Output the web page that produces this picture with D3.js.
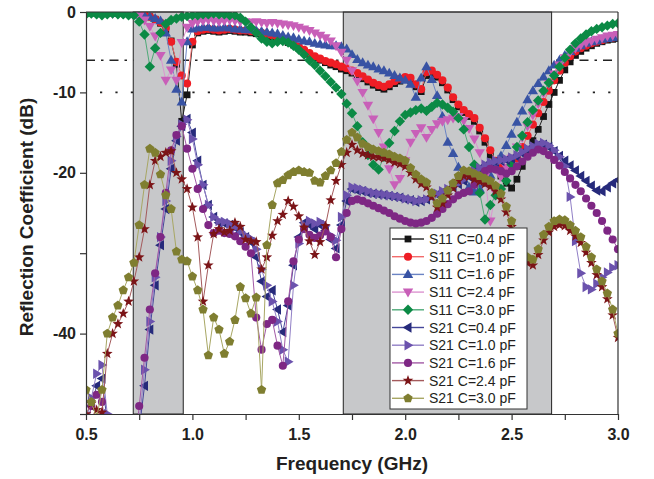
<!DOCTYPE html>
<html><head><meta charset="utf-8">
<script src="https://cdn.jsdelivr.net/npm/d3@7"></script>
<style>
body{margin:0;background:#fff}
svg{display:block}
text{font-family:"Liberation Sans",Arial,Helvetica,sans-serif;fill:#231f20}
</style>
</head><body>
<svg id="chart" width="654" height="479"></svg>
<script>
// ---------------- DATA ----------------
const freq = [
0.5,0.525,0.55,0.575,0.6,0.625,0.65,0.675,0.7,0.725,
0.75,0.775,0.8,0.825,0.85,0.875,0.9,0.925,0.95,0.975,
1.0,1.025,1.05,1.075,1.1,1.125,1.15,1.175,1.2,1.225,
1.25,1.275,1.3,1.325,1.35,1.375,1.4,1.425,1.45,1.475,
1.5,1.525,1.55,1.575,1.6,1.625,1.65,1.675,1.7,1.725,
1.75,1.775,1.8,1.825,1.85,1.875,1.9,1.925,1.95,1.975,
2.0,2.025,2.05,2.075,2.1,2.125,2.15,2.175,2.2,2.225,
2.25,2.275,2.3,2.325,2.35,2.375,2.4,2.425,2.45,2.475,
2.5,2.525,2.55,2.575,2.6,2.625,2.65,2.675,2.7,2.725,
2.75,2.775,2.8,2.825,2.85,2.875,2.9,2.925,2.95,2.975,
3.0];

const s11_c04 = [
-0.1,-0.1,-0.1,-0.1,-0.1,-0.1,-0.2,-0.2,-0.2,-0.2,
-0.3,-0.4,-0.6,-0.9,-1.4,-2.2,-3.6,-6.5,-13.6,-10.3,
-4.1,-2.6,-2.4,-2.3,-2.4,-2.5,-2.4,-2.3,-2.4,-2.5,
-2.5,-2.6,-2.7,-2.8,-3.0,-3.1,-3.3,-3.5,-3.8,-4.1,
-4.5,-4.9,-5.3,-5.7,-6.0,-6.3,-6.6,-6.8,-7.1,-7.3,
-7.6,-7.9,-8.3,-8.7,-9.1,-9.4,-9.6,-9.3,-8.9,-8.6,
-8.4,-8.5,-9.3,-9.9,-7.9,-7.7,-8.1,-8.8,-9.7,-10.9,
-11.8,-12.5,-13.0,-13.6,-14.8,-16.2,-17.8,-19.3,-20.4,-21.3,
-21.9,-20.8,-19.2,-17.5,-16.0,-14.6,-13.0,-11.5,-10.0,-8.5,
-7.2,-6.2,-5.4,-4.9,-4.5,-4.2,-3.9,-3.7,-3.5,-3.4,
-3.3];

const s11_c10 = [
-0.1,-0.1,-0.1,-0.1,-0.1,-0.1,-0.1,-0.2,-0.2,-0.2,
-0.3,-0.4,-0.6,-0.9,-1.3,-2.0,-3.7,-6.2,-7.9,-8.9,
-3.7,-2.4,-2.2,-2.1,-2.2,-2.3,-2.2,-2.1,-2.2,-2.3,
-2.3,-2.4,-2.5,-2.6,-2.8,-2.9,-3.1,-3.3,-3.6,-3.9,
-4.3,-4.7,-5.1,-5.5,-5.8,-6.1,-6.3,-6.5,-6.8,-7.0,
-7.3,-7.6,-8.0,-8.4,-8.8,-9.1,-9.3,-9.0,-8.6,-8.3,
-8.1,-8.2,-9.0,-9.6,-7.5,-7.3,-7.8,-8.5,-9.4,-10.6,
-11.5,-12.2,-12.7,-13.2,-14.4,-15.7,-17.2,-18.5,-19.4,-19.9,
-19.5,-18.2,-16.8,-15.4,-14.0,-12.6,-11.2,-9.8,-8.5,-7.3,
-6.3,-5.5,-4.9,-4.5,-4.2,-3.9,-3.7,-3.5,-3.3,-3.2,
-3.1];

const s11_c16 = [
-0.1,-0.1,-0.1,-0.1,-0.1,-0.1,-0.2,-0.2,-0.2,-0.3,
-0.4,-0.5,-0.6,-0.8,-1.1,-2.6,-6.0,-9.6,-11.2,-3.7,
-2.1,-2.0,-1.9,-1.9,-2.0,-2.0,-1.9,-2.0,-2.1,-2.1,
-2.2,-2.2,-2.3,-2.4,-2.5,-2.6,-2.7,-2.9,-3.1,-3.2,
-3.4,-3.6,-3.7,-3.9,-4.0,-4.1,-4.2,-4.2,-4.3,-4.6,
-5.3,-5.9,-6.3,-6.6,-6.8,-7.1,-7.3,-7.6,-7.9,-8.2,
-8.5,-9.0,-10.6,-8.2,-6.8,-8.4,-10.4,-13.0,-16.2,-17.6,
-19.3,-20.8,-21.8,-22.4,-22.0,-21.3,-20.3,-19.2,-17.9,-16.6,
-15.2,-13.7,-12.3,-10.9,-9.8,-8.9,-8.1,-7.3,-6.6,-6.0,
-5.4,-4.9,-4.5,-4.2,-3.9,-3.7,-3.6,-3.4,-3.3,-3.2,
-3.1];

const s11_c24 = [
-0.1,-0.1,-0.1,-0.1,-0.2,-0.2,-0.2,-0.2,-0.3,-0.3,
-0.5,-1.0,-1.8,-3.0,-5.4,-8.5,-7.2,-8.5,-3.8,-1.9,
-1.4,-1.2,-1.1,-1.0,-1.1,-1.2,-1.1,-1.0,-1.1,-1.2,
-1.2,-1.3,-1.2,-1.3,-1.4,-1.3,-1.4,-1.5,-1.6,-1.7,
-1.9,-2.1,-2.3,-2.6,-2.9,-3.2,-3.6,-4.2,-5.0,-6.0,
-7.3,-8.6,-10.0,-11.6,-13.3,-15.0,-16.8,-19.5,-21.5,-20.7,
-18.5,-16.2,-15.1,-14.4,-15.6,-14.6,-13.9,-13.6,-13.4,-13.2,
-13.0,-13.5,-14.5,-15.8,-17.5,-20.5,-26.0,-22.5,-20.5,-19.3,
-18.2,-16.8,-15.6,-14.2,-12.8,-11.4,-10.1,-8.9,-7.7,-6.6,
-5.7,-5.0,-4.5,-4.1,-3.8,-3.6,-3.4,-3.2,-3.0,-2.9,
-2.8];

const s11_c30 = [
-0.3,-0.2,-0.3,-0.4,-0.3,-0.2,-0.3,-0.3,-0.4,-0.4,
-1.2,-2.8,-6.8,-4.5,-2.6,-1.5,-1.0,-0.8,-0.6,-0.5,
-0.4,-0.4,-0.3,-0.3,-0.2,-0.3,-0.3,-0.4,-0.4,-0.7,
-1.2,-1.9,-2.6,-3.3,-3.7,-3.9,-3.7,-3.6,-3.8,-4.2,
-4.7,-5.3,-6.0,-6.6,-7.3,-8.0,-8.7,-9.4,-10.2,-11.4,
-12.6,-14.2,-16.2,-17.8,-19.0,-19.6,-18.0,-16.3,-14.8,-13.6,
-12.8,-12.5,-12.2,-12.0,-12.3,-11.8,-11.3,-11.5,-11.9,-12.4,
-13.2,-14.6,-16.8,-19.0,-22.5,-25.8,-24.0,-22.8,-22.0,-21.0,
-19.0,-16.8,-15.4,-13.7,-12.2,-11.0,-9.8,-8.8,-7.9,-6.8,
-5.7,-4.7,-3.9,-3.3,-2.8,-2.4,-2.1,-1.9,-1.7,-1.5,
-1.4];

const s21_c04 = [
-52,-49,-46.5,-45.6,-51,-57,-58,-58,-58,-57,
-52,-46.5,-39.5,-34,-29,-24.5,-19.5,-16,-14.2,-13.3,
-15,-18.5,-21.5,-24,-25.5,-26.2,-26.3,-26.5,-26.8,-27.4,
-28,-28.6,-30.5,-33.5,-35.4,-34.6,-37,-39.8,-36.5,-31.5,
-28,-26.2,-26.5,-27,-26.5,-27.2,-28.3,-29.4,-26.5,-23.5,
-22,-22.2,-22.3,-22.5,-22.6,-22.7,-22.8,-22.9,-23.0,-23.1,
-23.3,-23.4,-23.6,-23.5,-23.3,-23.0,-22.7,-22.4,-22.1,-21.8,
-21.4,-21.0,-20.5,-20.0,-19.5,-19.1,-18.8,-18.6,-18.5,-18.4,
-18.2,-18.0,-17.6,-17.1,-16.8,-16.5,-16.5,-16.8,-17.3,-17.9,
-18.5,-19.1,-19.7,-20.4,-21.0,-21.6,-22.2,-22.3,-21.8,-21.3,
-20.9];

const s21_c10 = [
-51,-48,-45,-43.9,-50,-57,-58,-58,-58,-57,
-51,-44.5,-38.5,-33,-28,-23.5,-18.5,-15.5,-14,-13.4,
-15.8,-19,-21.5,-24,-25.5,-26,-26.1,-26.3,-26.8,-27.3,
-27.8,-28.2,-29.5,-32,-34,-36,-38.5,-42,-43.5,-34,
-28.8,-26.5,-26,-26.3,-26.1,-26.6,-27.8,-28.4,-25.5,-22.8,
-21.8,-21.9,-22.1,-22.3,-22.5,-22.6,-22.7,-22.8,-22.9,-23.0,
-23.2,-23.3,-23.5,-23.4,-23.3,-22.9,-22.6,-22.3,-22.0,-21.6,
-21.3,-20.8,-20.3,-19.8,-19.4,-19.0,-18.7,-18.5,-18.4,-18.3,
-18.1,-17.8,-17.4,-17.0,-16.7,-16.4,-16.3,-16.6,-17.2,-18.0,
-19.2,-23.0,-28.5,-32.5,-34.2,-34.5,-33.8,-33.0,-32.4,-31.8,
-31.5];

const s21_c16 = [
-53,-49,-47.6,-48.5,-53,-58,-58,-58,-58,-56,
-49,-43,-37,-32.5,-28,-22.5,-17.2,-15.3,-14.2,-17,
-19.5,-22,-24.5,-26.5,-27.5,-27.2,-27.5,-27.6,-27.9,-28.5,
-29.2,-30,-38,-42,-38.8,-38.3,-41.5,-44,-36,-31,
-28.3,-27,-27.7,-28.1,-27.8,-27.3,-28,-30.5,-27,-25,
-23.5,-23.3,-23.5,-23.8,-24.1,-24.4,-24.7,-25,-25.4,-25.7,
-26,-26.2,-26.3,-26.2,-26,-25.6,-25.1,-24.5,-23.9,-23.3,
-22.8,-22.5,-22.3,-21.5,-20.5,-19.8,-19.5,-19.6,-19.8,-20.1,
-19.8,-19.2,-18.6,-18.0,-17.5,-17.1,-17.3,-17.8,-18.4,-19.1,
-19.9,-20.7,-21.5,-22.3,-23.2,-24.1,-25.0,-26.0,-27.2,-28.3,
-29.5];

const s21_c24 = [
-50,-48.7,-49.5,-49.8,-42.5,-40,-38.8,-37.5,-36,-33.5,
-30.5,-27,-21.5,-18.5,-18,-17.5,-17.3,-20,-20.8,-22,
-24.3,-28,-36,-31.5,-27.6,-27,-27.4,-27.2,-26.2,-26.7,
-28.3,-28.5,-28.6,-32,-30.5,-27.8,-26,-25.2,-23.5,-24.2,
-25.4,-26.8,-28.5,-30.2,-28.6,-26.6,-23.4,-21,-19,-17.5,
-16.5,-17.2,-17.6,-17.8,-18.0,-18.1,-18.2,-18.4,-18.7,-18.9,
-19.2,-20.0,-20.8,-21.4,-21.8,-23.0,-24.3,-23.8,-22.8,-21.9,
-21.0,-20.4,-20.5,-20.8,-21.1,-21.4,-21.7,-22.3,-23.3,-24.9,
-26.7,-29.2,-30.5,-31.2,-31.5,-30.2,-28.4,-27.4,-26.7,-26.5,
-26.6,-27.2,-27.9,-28.7,-29.9,-31.2,-32.7,-34.2,-35.7,-37.7,
-40.5];

const s21_c30 = [
-47,-48.5,-50.5,-47,-40,-38,-36.5,-34.6,-33,-31.2,
-26.5,-21.5,-17,-17.5,-20.2,-22.8,-24.5,-29.8,-30.8,-31,
-32.9,-34.6,-37,-42.7,-38,-39.5,-42.5,-41,-38.3,-34.2,
-35.6,-37.5,-35.5,-47,-29,-24,-21.3,-20.9,-20.3,-19.9,
-19.7,-19.9,-20,-21,-21.2,-20.4,-19.7,-18.8,-17.4,-15.9,
-15.0,-15.6,-16.4,-16.8,-17.1,-17.3,-17.5,-17.7,-18.0,-18.2,
-18.5,-19.4,-20.2,-20.8,-21.2,-22.5,-23.8,-23.2,-22.2,-21.3,
-20.4,-19.7,-19.8,-20.1,-20.4,-20.7,-21.0,-21.6,-22.6,-24.2,
-26,-28.5,-29.8,-30.5,-30.8,-29.5,-27.7,-26.7,-26,-25.8,
-25.9,-26.5,-27.2,-28,-29.2,-30.5,-32,-33.5,-35,-37,
-40];

const seriesNames = ["S11 C=0.4 pF","S11 C=1.0 pF","S11 C=1.6 pF","S11 C=2.4 pF","S11 C=3.0 pF",
                     "S21 C=0.4 pF","S21 C=1.0 pF","S21 C=1.6 pF","S21 C=2.4 pF","S21 C=3.0 pF"];
const seriesValues = [s11_c04,s11_c10,s11_c16,s11_c24,s11_c30,s21_c04,s21_c10,s21_c16,s21_c24,s21_c30];

const xTicks = [0.5,0.75,1.0,1.25,1.5,1.75,2.0,2.25,2.5,2.75,3.0];
const xTickLabels = ["0.5","","1.0","","1.5","","2.0","","2.5","","3.0"];
const yTicks = [0,-10,-20,-30,-40,-50];
const yTickLabels = ["0","-10","-20","","-40",""];
const bands = [[0.722,0.957],[1.709,2.688]];
const refLevels = [-6,-10];

// ---------------- STYLE ----------------
const colors = ["#151515","#ee1d25","#3853a4","#c85fb8","#0b8a45",
                "#262a7b","#6b52ad","#7e2784","#7b1417","#7f7e30"];
const lineColors = ["#222","#f26b6b","#6b84c4","#dc94d0","#4faa78",
                    "#45479a","#917fc6","#a35aa6","#a45a5c","#a8a764"];

function starPath(ro, ri){ let p=[]; for(let i=0;i<10;i++){const a=-Math.PI/2+i*Math.PI/5;const r=i%2?ri:ro;p.push([r*Math.cos(a),r*Math.sin(a)]);} return "M"+p.map(d=>d[0].toFixed(2)+","+d[1].toFixed(2)).join("L")+"Z"; }
function polyPath(n, r){ let p=[]; for(let i=0;i<n;i++){const a=-Math.PI/2+i*2*Math.PI/n;p.push([r*Math.cos(a),r*Math.sin(a)]);} return "M"+p.map(d=>d[0].toFixed(2)+","+d[1].toFixed(2)).join("L")+"Z"; }
const shapes = [
  "M-3.4,-3.4H3.4V3.4H-3.4Z",
  d3.symbol(d3.symbolCircle, 52)(),
  "M0,-5.4L5.2,3.5L-5.2,3.5Z",
  "M0,5.4L5.2,-3.5L-5.2,-3.5Z",
  "M0,-5.2L5.2,0L0,5.2L-5.2,0Z",
  "M-5.4,0L3.5,-5.2L3.5,5.2Z",
  "M5.4,0L-3.5,-5.2L-3.5,5.2Z",
  d3.symbol(d3.symbolCircle, 52)(),
  starPath(5.6,2.3),
  polyPath(5,4.9)
];

// ---------------- CHART ----------------
const svg = d3.select("#chart");
const L=86, R=618, T=12, B=414;
const x = d3.scaleLinear().domain([0.5,3.0]).range([L,R]);
const y = d3.scaleLinear().domain([-50,0]).range([B,T]);

svg.append("defs").append("clipPath").attr("id","plotclip")
  .append("rect").attr("x",L).attr("y",T).attr("width",R-L).attr("height",B-T);

// reference lines
svg.append("line").attr("x1",L).attr("x2",R).attr("y1",y(refLevels[0])).attr("y2",y(refLevels[0]))
  .attr("stroke","#222").attr("stroke-width",1.6).attr("stroke-dasharray","9,6,2.5,6");
svg.append("line").attr("x1",L+14).attr("x2",R).attr("y1",y(refLevels[1])).attr("y2",y(refLevels[1]))
  .attr("stroke","#222").attr("stroke-width",1.8).attr("stroke-dasharray","2.2,13.2");

// gray bands
bands.forEach(b=>{
  svg.append("rect").attr("x",x(b[0])).attr("y",T).attr("width",x(b[1])-x(b[0])).attr("height",B-T)
    .attr("fill","#c7c8ca").attr("stroke","#222").attr("stroke-width",1);
});

// series
const plot = svg.append("g").attr("clip-path","url(#plotclip)");
const line = d3.line().x((d,i)=>x(freq[i])).y(d=>y(d));
seriesValues.forEach((vals,si)=>{
  const g = plot.append("g");
  g.append("path").attr("d",line(vals)).attr("fill","none")
    .attr("stroke",lineColors[si]).attr("stroke-width",1);
  g.selectAll("path.m").data(vals).enter().append("path").attr("class","m")
    .attr("d",shapes[si]).attr("fill",colors[si])
    .attr("transform",(d,i)=>`translate(${x(freq[i])},${y(d)})`);
});

// axes
const xAxis = d3.axisBottom(x).tickValues(xTicks).tickFormat((d,i)=>xTickLabels[i])
  .tickSize(6).tickSizeOuter(0).tickPadding(9);
const gx = svg.append("g").attr("transform",`translate(0,${B})`).call(xAxis);
const yAxis = d3.axisLeft(y).tickValues(yTicks).tickFormat((d,i)=>yTickLabels[i])
  .tickSize(6).tickSizeOuter(0).tickPadding(4);
const gy = svg.append("g").attr("transform",`translate(${L},0)`).call(yAxis);
[gx,gy].forEach(g=>{
  g.select(".domain").attr("stroke","#333").attr("stroke-width",1.2);
  g.selectAll(".tick line").attr("stroke","#333").attr("stroke-width",1.2);
  g.selectAll(".tick text").attr("font-size",16).attr("font-weight","bold")
    .attr("font-family","'Liberation Sans',Arial,sans-serif").attr("fill","#231f20");
});
// top & right frame
svg.append("line").attr("x1",L).attr("x2",R).attr("y1",T).attr("y2",T).attr("stroke","#333").attr("stroke-width",1.2);
svg.append("line").attr("x1",R).attr("x2",R).attr("y1",T).attr("y2",B).attr("stroke","#333").attr("stroke-width",1.2);

// axis titles
svg.append("text").attr("x",(L+R)/2).attr("y",470).attr("text-anchor","middle")
  .attr("font-size",19).attr("font-weight","bold").text("Frequency (GHz)");
svg.append("text").attr("transform",`translate(33,${(T+B)/2+4}) rotate(-90)`).attr("text-anchor","middle")
  .attr("font-size",19).attr("font-weight","bold").text("Reflection Coefficient (dB)");

// legend
const lg = svg.append("g");
lg.append("rect").attr("x",390).attr("y",228).attr("width",137).attr("height",181)
  .attr("fill","#fff").attr("stroke","#333").attr("stroke-width",1);
seriesNames.forEach((nm,i)=>{
  const yy = 239 + i*17.7;
  lg.append("line").attr("x1",392).attr("x2",424).attr("y1",yy).attr("y2",yy)
    .attr("stroke",lineColors[i]).attr("stroke-width",1.4);
  lg.append("path").attr("d",shapes[i]).attr("fill",colors[i]).attr("transform",`translate(408,${yy})`);
  lg.append("text").attr("x",429).attr("y",yy+5).attr("font-size",14).text(nm);
});
</script>
</body></html>
